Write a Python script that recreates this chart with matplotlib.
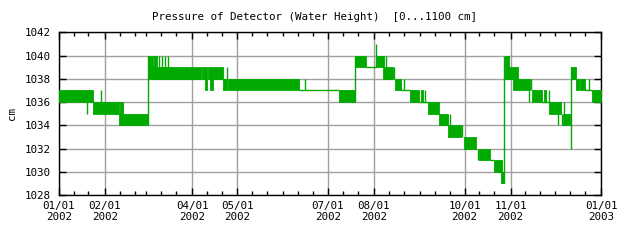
import numpy as np
import pandas as pd
import matplotlib
matplotlib.use("Agg")
import matplotlib.pyplot as plt
import matplotlib.dates as mdates

# readings jitter between two whole cm values -> drawn as filled bands
# (day of year 2002, lower cm, upper cm)
band_t0 = [0, 22.9, 41.3, 40.6, 60.1, 96.5, 100.3, 59.8, 64.1, 98.7, 101.8, 110.8, 113.8,
           188.8, 199.6, 214.4, 218.4, 226.3, 236.4, 243.8, 248.5, 255.9, 262.2, 272.7,
           282.8, 293.1, 297.6, 299.9, 299.9, 305.5, 318.3, 326.6, 329.9, 339.2, 344.7,
           348.1, 350.8, 358.7]
band_t1 = [22.9, 40.6, 43.1, 60.1, 96.0, 99.8, 110.6, 63.1, 65.8, 99.6, 103.6, 113.1, 161.9,
           199.6, 206.6, 218.9, 224.8, 230.3, 242.5, 244.9, 255.9, 262.2, 270.7, 280.8,
           290.2, 298.1, 299.5, 303.2, 308.7, 317.2, 325.0, 327.5, 338.0, 344.1, 348.1,
           350.3, 354.2, 365.0]
band_lo = [1036, 1035, 1035, 1034, 1038, 1038, 1038, 1039, 1039, 1037, 1037, 1037, 1037,
           1036, 1039, 1039, 1038, 1037, 1036, 1036, 1035, 1034, 1033, 1032,
           1031, 1030, 1029, 1039, 1038, 1037, 1036, 1036, 1035, 1034, 1038,
           1037, 1037, 1036]
band_hi = [lo + 1 for lo in band_lo]

# steady stretches
flat_t0 = [161.9, 206.6, 230.3, 242.5, 290.2, 325.0, 354.2]
flat_t1 = [188.8, 214.4, 236.4, 248.5, 293.1, 329.9, 358.7]
flat_cm = [1037, 1039, 1037, 1036, 1031, 1036, 1037]

# single spikes / jumps
spike_t = [19.25, 28.7, 60.1, 67.5, 69.5, 71.5, 73.6, 113.5, 165.7, 199.6, 213.5, 220.1,
           225.6, 229.7, 232.4, 246.5, 262.9, 271.6, 282.0, 299.7, 316.7, 317.8, 329.7,
           336.2, 338.5, 339.6, 344.5, 356.4]
spike_lo = [1035, 1036, 1034, 1039, 1039, 1039, 1039, 1038, 1037, 1036, 1039, 1038,
            1038, 1037, 1037, 1036, 1034, 1033, 1031, 1029, 1036, 1037, 1036,
            1034, 1034, 1035, 1032, 1037]
spike_hi = [1036, 1037, 1040, 1040, 1040, 1040, 1040, 1039, 1038, 1040, 1041, 1040,
            1039, 1038, 1038, 1037, 1035, 1034, 1032, 1040, 1037, 1038, 1037,
            1035, 1035, 1036, 1039, 1038]

label_months = [1, 2, 4, 5, 7, 8, 10, 11]
title = "Pressure of Detector (Water Height)  [0...1100 cm]"

green = "#00aa00"
grid_col = "#a0a0a0"
font = "DejaVu Sans Mono"
fs = 7.8

start = pd.Timestamp("2002-01-01")
def day(d):
    return mdates.date2num(start + pd.to_timedelta(np.asarray(d, dtype=float), unit="D"))

fig = plt.figure(figsize=(6.4, 2.4), dpi=100)
ax = fig.add_axes([58.7 / 640, 1 - 195 / 240, 542.6 / 640, 162.7 / 240])

for t0, t1, lo, hi in zip(band_t0, band_t1, band_lo, band_hi):
    x = day([t0, t1])
    ax.fill_between(x, lo, hi, color=green, lw=0.6, edgecolor=green, zorder=3)
ax.hlines(flat_cm, day(flat_t0), day(flat_t1), color=green, lw=1, zorder=3)
ax.vlines(day(spike_t), spike_lo, spike_hi, color=green, lw=1, zorder=3)

ax.set_xlim(day(0), day(365))
ax.set_ylim(1028, 1042)
ax.set_yticks(range(1028, 1043, 2))
ax.xaxis.set_major_locator(mdates.MonthLocator(bymonth=label_months))
ax.xaxis.set_major_formatter(mdates.DateFormatter("%m/%d\n%Y"))
ax.xaxis.set_minor_locator(mdates.DayLocator(bymonthday=[1, 11, 21]))

ax.grid(True, which="major", color=grid_col, lw=1, zorder=1)
ax.tick_params(which="both", direction="in", top=True, right=True, width=1, color="black")
ax.tick_params(which="major", length=5)
ax.tick_params(which="minor", length=3)
ax.tick_params(axis="y", pad=6)
ax.tick_params(axis="x", pad=4.5)
for sp in ax.spines.values():
    sp.set_linewidth(1)
for lab in ax.get_xticklabels() + ax.get_yticklabels():
    lab.set_fontfamily(font)
    lab.set_fontsize(fs)

fig.text(315 / 640, 1 - 17 / 240, title, ha="center", va="center", family=font, size=fs)
fig.text(11.5 / 640, 1 - 113.5 / 240, "cm", rotation=90, ha="center", va="center",
         family=font, size=fs)

fig.canvas.draw()
for tick in ax.xaxis.get_major_ticks():
    tick.label1.set_linespacing(1.1)
    tick.label1.set_fontfamily(font)
    tick.label1.set_fontsize(fs)

fig.savefig("out.png", dpi=100)
